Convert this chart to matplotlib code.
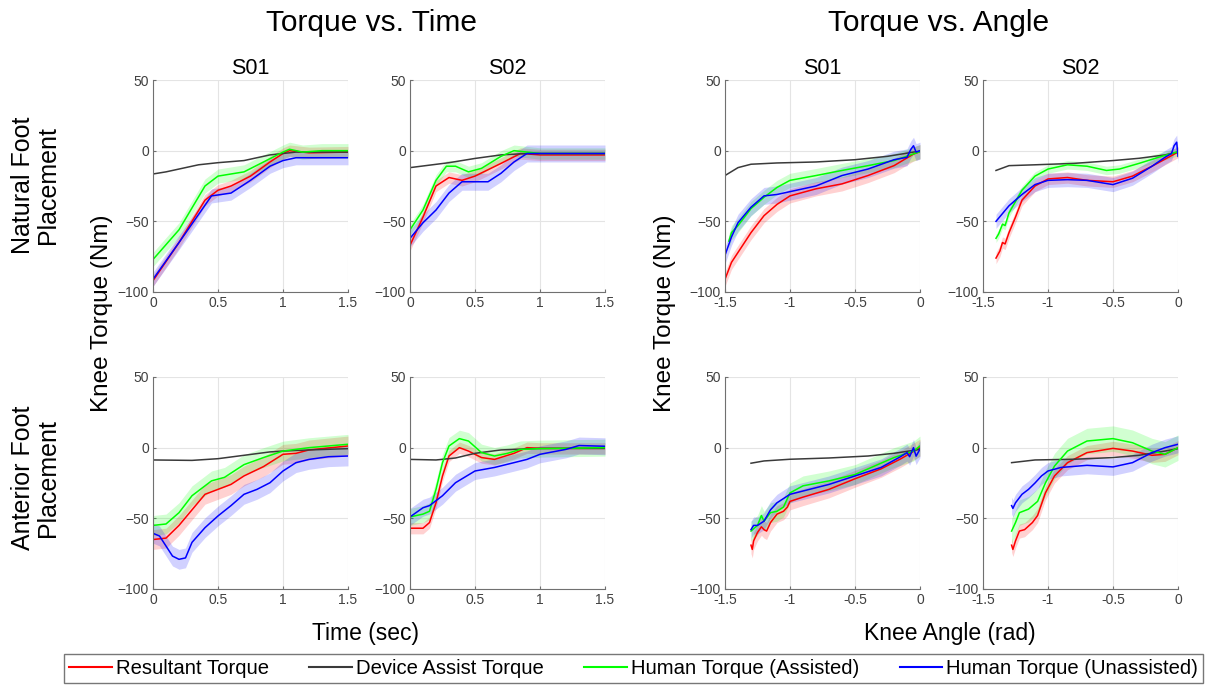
import matplotlib
matplotlib.use("Agg")
import matplotlib.pyplot as plt
from matplotlib.lines import Line2D

plt.rcParams['font.family'] = ['Liberation Sans', 'DejaVu Sans']

# ---- data (x, y pairs per curve) ----
# Natural foot placement, torque vs time, S01
nt1_t = {
    'dev': ([0, 0.1, 0.35, 0.5, 0.7, 0.9, 1.0, 1.1, 1.5], [-16.5, -15, -10, -8.5, -7, -3, -2, -1, -1]),
    'res': ([0, 0.2, 0.4, 0.5, 0.6, 0.75, 0.9, 1.0, 1.05, 1.2, 1.5], [-92, -65, -35, -28, -25, -18, -8, -2, 0, -1.5, -1]),
    'ast': ([0, 0.2, 0.4, 0.5, 0.7, 0.85, 1.0, 1.05, 1.15, 1.3, 1.5], [-77, -56, -25, -18, -15, -8, -1, 1, -1, 0, 0]),
    'una': ([0, 0.2, 0.45, 0.6, 0.75, 0.9, 1.0, 1.1, 1.5], [-91, -65, -32, -30, -21, -11, -7, -5, -5]),
}
# Natural foot placement, torque vs time, S02
nt2_t = {
    'dev': ([0, 0.3, 0.5, 0.7, 0.9, 1.5], [-12, -8.5, -5.5, -3, -2, -2]),
    'res': ([0, 0.1, 0.2, 0.3, 0.4, 0.5, 0.7, 0.85, 1.0, 1.5], [-67, -47, -25, -19, -21, -18, -9, -2, -3, -3]),
    'ast': ([0, 0.1, 0.2, 0.28, 0.35, 0.45, 0.55, 0.7, 0.8, 0.9, 1.0, 1.5], [-56, -42, -21, -11, -11, -15, -12.5, -4, 0, -1, -2, -2]),
    'una': ([0, 0.1, 0.2, 0.3, 0.4, 0.5, 0.6, 0.7, 0.8, 0.9, 1.0, 1.5], [-62, -51, -42, -30, -22, -22, -22, -16, -8, -2, -2, -2]),
}
# Natural foot placement, torque vs angle, S01
nt1_a = {
    'dev': ([-1.5, -1.4, -1.3, -1.1, -0.8, -0.5, -0.25, -0.05, 0], [-17.6, -12, -9.6, -8.7, -8, -6.4, -4, -1, -0.5]),
    'res': ([-1.5, -1.45, -1.4, -1.3, -1.2, -1.1, -1.0, -0.8, -0.6, -0.4, -0.2, -0.05, 0], [-91, -79, -72, -58, -46, -38, -32, -27, -23.5, -17.6, -10.6, -2.4, -0.7]),
    'ast': ([-1.47, -1.45, -1.4, -1.3, -1.2, -1.1, -1.0, -0.8, -0.6, -0.4, -0.2, 0], [-64, -58, -53, -41, -33, -26, -21, -17.6, -14, -10.6, -7, -0.7]),
    'una': ([-1.5, -1.45, -1.4, -1.3, -1.2, -1.1, -1.0, -0.8, -0.6, -0.4, -0.2, -0.1, -0.07, -0.05, -0.03, 0], [-74, -61, -51, -40, -32, -31, -29, -25, -17.6, -13, -6.4, -4.7, 1, 3.5, -1, 0]),
}
# Natural foot placement, torque vs angle, S02
nt2_a = {
    'dev': ([-1.4, -1.3, -1.1, -0.8, -0.5, -0.3, -0.1, 0], [-14, -10.6, -10, -9, -7, -5.4, -3, -1]),
    'res': ([-1.4, -1.37, -1.35, -1.33, -1.3, -1.25, -1.2, -1.1, -1.0, -0.85, -0.7, -0.5, -0.35, -0.2, 0], [-76, -71, -65, -66, -58, -47, -35, -25, -20, -19, -21, -22, -18, -11, -1]),
    'ast': ([-1.4, -1.38, -1.35, -1.33, -1.3, -1.2, -1.1, -1.0, -0.85, -0.7, -0.55, -0.45, -0.3, -0.15, 0], [-62, -59, -52, -53, -44, -28, -18, -13, -10, -11, -14, -13, -9, -4.7, -0.7]),
    'una': ([-1.4, -1.3, -1.2, -1.1, -1.0, -0.85, -0.7, -0.5, -0.35, -0.2, -0.1, -0.05, -0.03, -0.01, 0], [-50, -39, -31, -24, -21, -20.5, -21, -24, -19.5, -11, -4.7, -2, 3.5, 6, -4]),
}
# Anterior foot placement, torque vs time, S01
an1_t = {
    'dev': ([0, 0.3, 0.5, 0.7, 0.9, 1.0, 1.2, 1.5], [-8.7, -9, -7.8, -5.4, -3, -2.4, -1.6, -0.7]),
    'res': ([0, 0.1, 0.2, 0.3, 0.4, 0.5, 0.6, 0.7, 0.85, 1.0, 1.1, 1.2, 1.5], [-65, -64, -55, -44, -33, -29.5, -26, -20, -13.4, -4.7, -4, -1.6, 1.2]),
    'ast': ([0, 0.1, 0.2, 0.3, 0.45, 0.55, 0.7, 0.85, 1.0, 1.2, 1.5], [-55, -54, -46, -34, -23.5, -21, -12, -7, -2.4, 0, 2.4]),
    'una': ([0, 0.05, 0.1, 0.15, 0.2, 0.25, 0.3, 0.4, 0.5, 0.6, 0.7, 0.8, 0.9, 1.0, 1.1, 1.2, 1.35, 1.5], [-60.6, -62.5, -69.6, -76.7, -79, -78, -67, -56.6, -48.3, -41, -33, -29.5, -24.8, -16.5, -10.6, -8.3, -6.4, -5.9]),
}
# Anterior foot placement, torque vs time, S02
an2_t = {
    'dev': ([0, 0.2, 0.35, 0.5, 0.7, 1.0, 1.5], [-8.3, -8.7, -7.3, -4, -1.6, -0.5, -0.5]),
    'res': ([0, 0.1, 0.15, 0.2, 0.25, 0.3, 0.38, 0.45, 0.55, 0.65, 0.8, 0.9, 1.0, 1.5], [-57, -57, -53, -39, -20, -5.9, 0, -2.4, -7, -8.3, -4, 0, -0.5, -0.5]),
    'ast': ([0, 0.1, 0.15, 0.2, 0.25, 0.3, 0.38, 0.45, 0.55, 0.65, 0.75, 0.85, 1.0, 1.5], [-49, -47, -45, -29.5, -10.6, 1.2, 6.4, 4.7, -3.5, -5.9, -4, -1.2, -0.7, 0]),
    'una': ([0, 0.1, 0.15, 0.25, 0.35, 0.5, 0.65, 0.8, 0.9, 1.0, 1.2, 1.3, 1.5], [-49, -42.5, -41, -34, -24.8, -16.5, -14, -10.6, -8.3, -4.7, -1.2, 1.5, 1]),
}
# Anterior foot placement, torque vs angle, S01
an1_a = {
    'dev': ([-1.3, -1.2, -1.0, -0.7, -0.4, -0.2, 0], [-11, -9.4, -8.2, -7.3, -5.9, -4, -1.2]),
    'res': ([-1.3, -1.29, -1.28, -1.25, -1.22, -1.2, -1.18, -1.15, -1.1, -1.05, -1.02, -1.0, -0.9, -0.7, -0.5, -0.3, -0.15, 0], [-69, -72, -66, -60, -56, -58, -59, -53, -47, -45, -42, -38, -35, -29.5, -22, -15, -8, 0]),
    'ast': ([-1.3, -1.25, -1.22, -1.2, -1.15, -1.1, -1.05, -1.0, -0.9, -0.7, -0.5, -0.35, -0.2, -0.05, 0], [-59, -55, -48, -52, -46, -45, -42, -32, -27, -23.5, -19, -13, -7, -2.4, 1.2]),
    'una': ([-1.3, -1.28, -1.25, -1.2, -1.15, -1.1, -1.0, -0.85, -0.7, -0.5, -0.3, -0.15, -0.1, -0.08, -0.05, -0.03, 0], [-58, -55, -55, -52, -44, -39, -33, -29.5, -26, -20, -14, -6.4, -3.5, -6.4, 0, -6, -1]),
}
# Anterior foot placement, torque vs angle, S02
an2_a = {
    'dev': ([-1.28, -1.1, -0.8, -0.5, -0.3, -0.1, 0], [-10.6, -8.7, -8.2, -7, -5.4, -2.4, -0.7]),
    'res': ([-1.28, -1.27, -1.25, -1.22, -1.18, -1.12, -1.08, -1.02, -0.95, -0.85, -0.7, -0.5, -0.35, -0.2, -0.1, 0], [-69, -72, -66, -59, -58, -53, -48, -32, -20, -10.6, -3.5, -0.5, -2.4, -5.4, -4.7, 0]),
    'ast': ([-1.28, -1.25, -1.22, -1.15, -1.08, -1.02, -0.95, -0.85, -0.7, -0.5, -0.35, -0.2, -0.1, 0], [-59, -53, -46, -43.5, -38, -25, -13, -2.4, 4.7, 6.4, 3.5, -2.4, -4.7, 0]),
    'una': ([-1.28, -1.27, -1.25, -1.2, -1.15, -1.1, -1.05, -1.0, -0.9, -0.7, -0.5, -0.35, -0.2, -0.1, 0], [-41, -43, -39, -33, -29.5, -25, -20, -16.5, -14, -12.5, -13.6, -10.6, -3.5, 0, 2.4]),
}

# shaded band half-widths per curve, per panel (Nm)
bands = [
    {'res': 4, 'ast': 5, 'una': 5},   # natural time S01
    {'res': 4, 'ast': 4, 'una': 6},   # natural time S02
    {'res': 5, 'ast': 5, 'una': 6},   # natural angle S01
    {'res': 4, 'ast': 3, 'una': 5},   # natural angle S02
    {'res': 7, 'ast': 7, 'una': 7},   # anterior time S01
    {'res': 4, 'ast': 6, 'una': 6},   # anterior time S02
    {'res': 6, 'ast': 7, 'una': 6},   # anterior angle S01
    {'res': 5, 'ast': 9, 'una': 6},   # anterior angle S02
]

panels = [nt1_t, nt2_t, nt1_a, nt2_a, an1_t, an2_t, an1_a, an2_a]
subjects = ['S01', 'S02', 'S01', 'S02']
series_names = ['Resultant Torque', 'Device Assist Torque', 'Human Torque (Assisted)', 'Human Torque (Unassisted)']
colors = {'res': '#ff0000', 'dev': '#3a3a3a', 'ast': '#00ff00', 'una': '#0000ff'}

W, H = 1214, 686
fig = plt.figure(figsize=(W / 100, H / 100), dpi=100)

lefts = [153, 410, 725, 983]
tops = [80, 377]
aw, ah = 195, 212

for i, data in enumerate(panels):
    row, col = divmod(i, 4)
    ax = fig.add_axes([lefts[col] / W, 1 - (tops[row] + ah) / H, aw / W, ah / H])
    for key in ['res', 'dev', 'ast', 'una']:
        x, y = data[key]
        if key != 'dev':
            b = bands[i][key]
            ax.fill_between(x, [v - b for v in y], [v + b for v in y],
                            color=colors[key], alpha=0.18, lw=0)
        ax.plot(x, y, color=colors[key], lw=1.1)

    if col < 2:
        ax.set_xlim(0, 1.5)
        ax.set_xticks([0, 0.5, 1, 1.5])
        ax.set_xticklabels(['0', '0.5', '1', '1.5'])
    else:
        ax.set_xlim(-1.5, 0)
        ax.set_xticks([-1.5, -1, -0.5, 0])
        ax.set_xticklabels(['-1.5', '-1', '-0.5', '0'])
    ax.set_ylim(-100, 50)
    ax.set_yticks([-100, -50, 0, 50])
    ax.grid(True, color='#e4e4e4', lw=0.8)
    ax.set_axisbelow(True)
    for s in ['top', 'right']:
        ax.spines[s].set_visible(False)
    for s in ['left', 'bottom']:
        ax.spines[s].set_color('#707070')
    ax.tick_params(labelsize=10, colors='#707070', labelcolor='#404040',
                   length=2, direction='in', pad=3)
    if row == 0:
        ax.set_title(subjects[col], fontsize=15.5, pad=4)

fig.text(0.306, 0.966, 'Torque vs. Time', ha='center', va='center', fontsize=21.5)
fig.text(0.773, 0.966, 'Torque vs. Angle', ha='center', va='center', fontsize=21.5)
fig.text(0.084, 0.544, 'Knee Torque (Nm)', rotation=90, ha='center', va='center', fontsize=17.5)
fig.text(0.548, 0.544, 'Knee Torque (Nm)', rotation=90, ha='center', va='center', fontsize=17.5)
fig.text(0.029, 0.73, 'Natural Foot\nPlacement', rotation=90, ha='center', va='center',
         fontsize=18, linespacing=1.05)
fig.text(0.029, 0.303, 'Anterior Foot\nPlacement', rotation=90, ha='center', va='center',
         fontsize=18, linespacing=1.05)
fig.text(0.3007, 0.077, 'Time (sec)', ha='center', va='center', fontsize=16.5)
fig.text(0.7825, 0.077, 'Knee Angle (rad)', ha='center', va='center', fontsize=16.5)

handles = [Line2D([], [], color=colors[k], lw=1.5) for k in ['res', 'dev', 'ast', 'una']]
leg = fig.legend(handles, series_names, loc='center', bbox_to_anchor=(0.522, 0.026),
                 ncol=4, fontsize=14.6, frameon=True, fancybox=False, handlelength=2.1,
                 handletextpad=0.2, columnspacing=2.0, borderpad=0.25)
leg.get_frame().set_edgecolor('#555555')
leg.get_frame().set_linewidth(1.0)

fig.savefig('out.png', dpi=100)
